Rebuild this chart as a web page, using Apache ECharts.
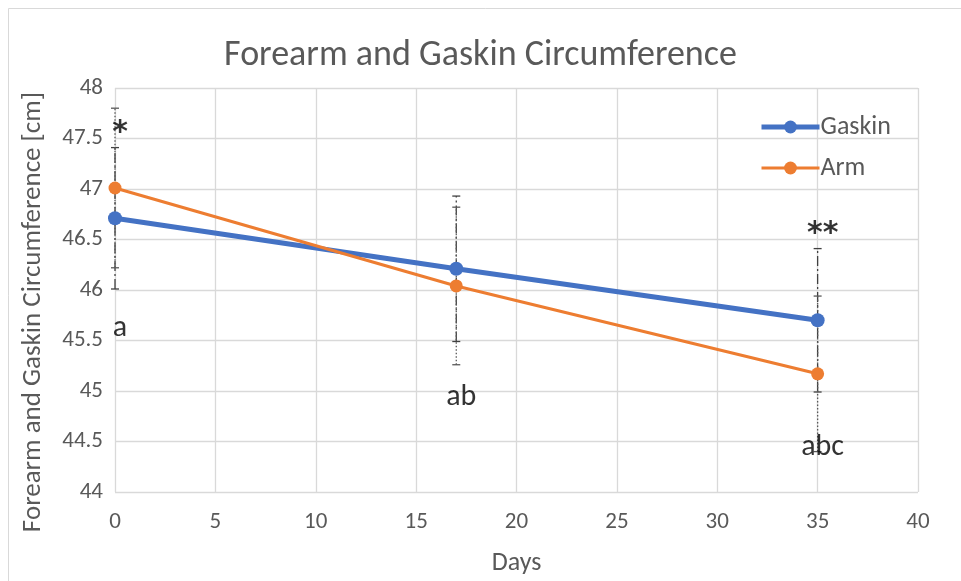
<!DOCTYPE html>
<html><head><meta charset="utf-8">
<script src="https://cdn.jsdelivr.net/npm/echarts@6/dist/echarts.min.js"></script>
<style>html,body{margin:0;padding:0;background:#fff}#c{width:961px;height:581px}</style>
</head><body><div id="c"></div>
<script>
const days = [0, 17, 35];
const gaskin = [46.71, 46.21, 45.70];
const arm = [47.01, 46.04, 45.17];
const gaskinErr = [0.70, 0.72, 0.71];
const armErr = [0.79, 0.78, 0.77];
const annotations = [
  {x: 0, y: 47.57, text: '*'},
  {x: 0, y: 45.62, text: 'a'},
  {x: 17, y: 44.94, text: 'ab'},
  {x: 35, y: 44.44, text: 'abc'},
  {x: 35, y: 46.57, text: '**'}
];

const font = 'Calibri, Carlito, "Liberation Sans", "Open Sans", sans-serif';
const chart = echarts.init(document.getElementById('c'));

function errSeries(name, vals, errs, dash, color, z) {
  return {
    type: 'custom', name: name, z: z, silent: true,
    data: days.map((d, i) => [d, vals[i] - errs[i], vals[i] + errs[i]]),
    renderItem: function (params, api) {
      const lo = api.coord([api.value(0), api.value(1)]);
      const hi = api.coord([api.value(0), api.value(2)]);
      const st = {stroke: color, lineWidth: 1.3, lineDash: dash};
      const cst = {stroke: color, lineWidth: 1.3};
      return {type: 'group', children: [
        {type: 'line', shape: {x1: lo[0], y1: lo[1], x2: hi[0], y2: hi[1]}, style: st},
        {type: 'line', shape: {x1: lo[0] - 4, y1: lo[1], x2: lo[0] + 4, y2: lo[1]}, style: cst},
        {type: 'line', shape: {x1: hi[0] - 4, y1: hi[1], x2: hi[0] + 4, y2: hi[1]}, style: cst}
      ]};
    }
  };
}

chart.setOption({
  animation: false,
  backgroundColor: '#fff',
  title: {
    text: 'Forearm and Gaskin Circumference', left: 'center', top: 33,
    textStyle: {fontFamily: font, fontSize: 36, fontWeight: 'normal', color: '#595959'}
  },
  graphic: [{type: 'rect', shape: {x: 8.5, y: 8.5, width: 960, height: 580},
    style: {fill: 'none', stroke: '#d9d9d9', lineWidth: 1}, silent: true}],
  legend: {
    orient: 'vertical', left: 754, top: 109, itemGap: 15,
    itemWidth: 58, itemHeight: 16,
    textStyle: {fontFamily: font, fontSize: 26, color: '#595959', padding: [0, 0, 0, -4]},
    data: [
      {name: 'Gaskin', lineStyle: {width: 5}},
      {name: 'Arm', lineStyle: {width: 3}}
    ]
  },
  grid: {left: 115, right: 43, top: 88, bottom: 88},
  xAxis: {
    type: 'value', min: 0, max: 40, interval: 5,
    name: 'Days', nameLocation: 'middle', nameGap: 58,
    nameTextStyle: {fontFamily: font, fontSize: 26, color: '#595959'},
    axisLine: {show: false}, axisTick: {show: false},
    axisLabel: {fontFamily: font, fontSize: 23, color: '#595959', margin: 19},
    splitLine: {show: true, lineStyle: {color: '#d9d9d9', width: 1.3}}
  },
  yAxis: {
    type: 'value', min: 44, max: 48, interval: 0.5,
    name: 'Forearm and Gaskin Circumference [cm]', nameLocation: 'middle', nameGap: 68,
    nameTextStyle: {fontFamily: font, fontSize: 27, color: '#595959', padding: [0, 44, 0, 0]},
    axisLine: {show: false}, axisTick: {show: false},
    axisLabel: {fontFamily: font, fontSize: 23, color: '#595959', margin: 12},
    splitLine: {show: true, lineStyle: {color: '#d9d9d9', width: 1.3}}
  },
  series: [
    errSeries('gErr', gaskin, gaskinErr, [10, 3, 2, 3], '#404040', 1),
    errSeries('aErr', arm, armErr, [1.5, 2], '#595959', 1),
    {
      name: 'Gaskin', type: 'line', z: 3,
      data: days.map((d, i) => [d, gaskin[i]]),
      symbol: 'circle', symbolSize: 14,
      lineStyle: {color: '#4472C4', width: 5},
      itemStyle: {color: '#4472C4'}
    },
    {
      name: 'Arm', type: 'line', z: 4,
      data: days.map((d, i) => [d, arm[i]]),
      symbol: 'circle', symbolSize: 13,
      lineStyle: {color: '#ED7D31', width: 3},
      itemStyle: {color: '#ED7D31'}
    },
    {
      name: 'notes', type: 'scatter', z: 5, silent: true,
      symbolSize: 0,
      data: annotations.map(a => {
        const star = a.text.indexOf('*') >= 0;
        return {
          value: [a.x, a.y], name: a.text,
          label: star ? {fontSize: 30, fontWeight: 'bold', fontFamily: '"DejaVu Sans", sans-serif', offset: [5, 2]} : {}
        };
      }),
      label: {
        show: true, position: 'inside', offset: [5, 0],
        formatter: p => p.name,
        fontFamily: font, fontSize: 30, color: '#000'
      }
    }
  ]
});
</script></body></html>
